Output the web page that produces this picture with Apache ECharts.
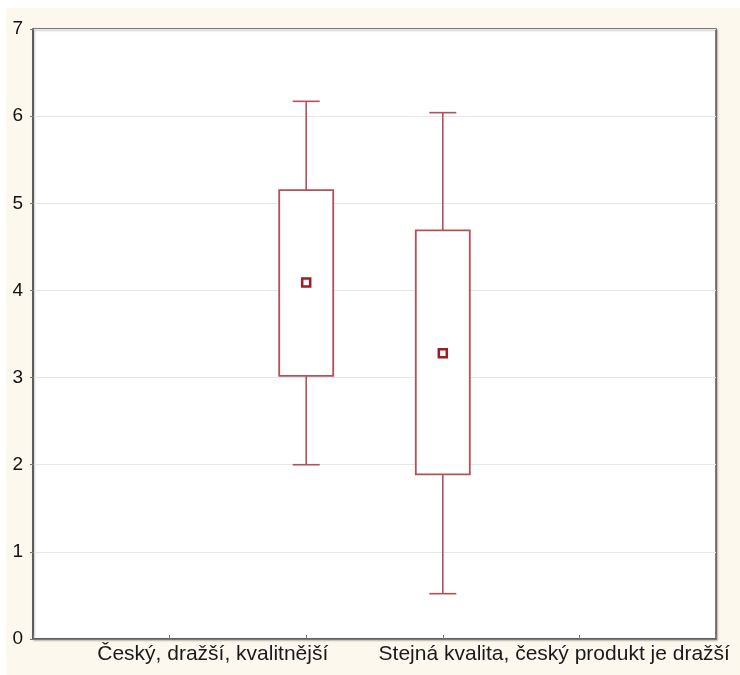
<!DOCTYPE html>
<html>
<head>
<meta charset="utf-8">
<script src="https://cdn.jsdelivr.net/npm/echarts@6/dist/echarts.min.js"></script>
<style>
html,body{margin:0;padding:0;background:#ffffff;}
#chart{width:740px;height:675px;}
</style>
</head>
<body>
<div id="chart"></div>
<script>
// ---- data ----
const categories = ['Český, dražší, kvalitnější', 'Stejná kvalita, český produkt je dražší'];
const boxSlots = ['', '', '', '', '', ''];   // Statistica-style x slots (5 intervals)
const boxSlotIndex = [2, 3];
const whiskerLow  = [2.00, 0.52];
const boxLow      = [3.02, 1.89];
const meanValue   = [4.09, 3.28];
const boxHigh     = [5.15, 4.69];
const whiskerHigh = [6.17, 6.04];
const yMin = 0, yMax = 7, yStep = 1;

const boxColor = '#b4505a';
const meanColor = '#a01c24';

const boxData = categories.map((c, i) => [boxSlotIndex[i], whiskerLow[i], boxLow[i], meanValue[i], boxHigh[i], whiskerHigh[i]]);
const meanData = categories.map((c, i) => [boxSlotIndex[i], meanValue[i]]);

const chart = echarts.init(document.getElementById('chart'), null, {renderer: 'canvas'});
const option = {
  animation: false,
  backgroundColor: 'transparent',
  textStyle: {fontFamily: 'Liberation Sans, Arial, sans-serif'},
  graphic: [{
    type: 'rect', z: -10, silent: true,
    shape: {x: 6, y: 8, width: 734, height: 667},
    style: {fill: '#fdf8ee'}
  }],
  grid: {
    left: 33, top: 29, right: 24, bottom: 36,
    show: true, backgroundColor: '#ffffff', borderColor: '#555555', borderWidth: 1.5,
    shadowColor: 'rgba(0,0,0,0.25)', shadowBlur: 2, shadowOffsetX: 1, shadowOffsetY: 1
  },
  xAxis: [{
    type: 'category', data: boxSlots, boundaryGap: false, position: 'bottom',
    axisLine: {show: true, lineStyle: {color: '#555555', width: 1.5}},
    axisTick: {show: true, inside: true, length: 4, lineStyle: {color: '#777777'}},
    axisLabel: {show: false},
    splitLine: {show: false}
  }, {
    type: 'category', data: categories, boundaryGap: true, position: 'bottom',
    axisLine: {show: false}, axisTick: {show: false}, splitLine: {show: false},
    axisLabel: {show: true, interval: 0, hideOverlap: false, color: '#1a1a1a', fontSize: 21, margin: 5, padding: [0, 0, 0, 18]}
  }],
  yAxis: {
    type: 'value', min: yMin, max: yMax, interval: yStep,
    axisLine: {show: true, lineStyle: {color: '#555555', width: 1.5}},
    axisTick: {show: true, length: 3, lineStyle: {color: '#777777'}},
    axisLabel: {color: '#111111', fontSize: 19, margin: 10},
    splitLine: {show: true, lineStyle: {color: '#e6e6e6', width: 1.2}}
  },
  series: [{
    type: 'custom',
    xAxisIndex: 0,
    data: boxData,
    renderItem: function (params, api) {
      const x = api.value(0);
      const lo = api.coord([x, api.value(1)]);
      const q1 = api.coord([x, api.value(2)]);
      const q3 = api.coord([x, api.value(4)]);
      const hi = api.coord([x, api.value(5)]);
      const half = 27, cap = 13.5;
      const st = {stroke: boxColor, lineWidth: 1.6, fill: null};
      return {
        type: 'group',
        children: [
          {type: 'line', shape: {x1: hi[0], y1: hi[1], x2: q3[0], y2: q3[1]}, style: st},
          {type: 'line', shape: {x1: q1[0], y1: q1[1], x2: lo[0], y2: lo[1]}, style: st},
          {type: 'line', shape: {x1: hi[0] - cap, y1: hi[1], x2: hi[0] + cap, y2: hi[1]}, style: st},
          {type: 'line', shape: {x1: lo[0] - cap, y1: lo[1], x2: lo[0] + cap, y2: lo[1]}, style: st},
          {type: 'rect', shape: {x: q3[0] - half, y: q3[1], width: half * 2, height: q1[1] - q3[1]},
           style: {stroke: boxColor, lineWidth: 1.8, fill: '#ffffff'}}
        ]
      };
    },
    z: 2
  }, {
    type: 'scatter',
    xAxisIndex: 0,
    data: meanData,
    symbol: 'rect',
    symbolSize: 8,
    itemStyle: {color: '#ffffff', borderColor: meanColor, borderWidth: 2.5, opacity: 1},
    z: 3
  }]
};
chart.setOption(option);
</script>
</body>
</html>
